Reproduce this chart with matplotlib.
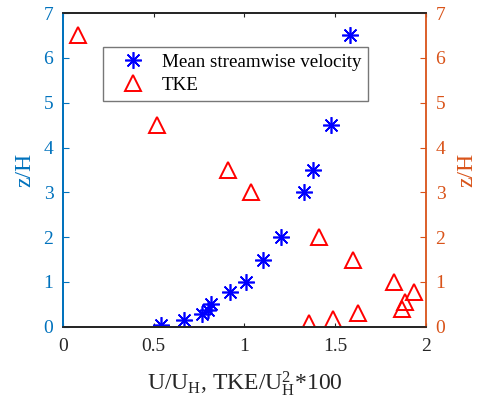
import numpy as np
import matplotlib.pyplot as plt

plt.rcParams['font.family'] = ['Liberation Serif', 'DejaVu Serif']
plt.rcParams['mathtext.fontset'] = 'custom'
plt.rcParams['mathtext.rm'] = 'Liberation Serif'
plt.rcParams['mathtext.it'] = 'Liberation Serif'

# mean streamwise velocity U/U_H
u_vals = [0.541, 0.664, 0.766, 0.80, 0.818, 0.918, 1.006, 1.104, 1.20, 1.327, 1.38, 1.478, 1.584]
u_z = [0.04, 0.16, 0.28, 0.37, 0.52, 0.77, 1.0, 1.5, 2.0, 3.0, 3.5, 4.5, 6.5]

# TKE/U_H^2*100
tke_vals = [1.357, 1.487, 1.628, 1.868, 1.886, 1.936, 1.822, 1.597, 1.408, 1.034, 0.911, 0.515, 0.084]
tke_z = [0.08, 0.18, 0.3, 0.4, 0.55, 0.78, 1.0, 1.5, 2.0, 3.0, 3.5, 4.5, 6.5]

blue_ax = '#0072BD'
orange_ax = '#D95319'
dark = '#262626'

fig = plt.figure(figsize=(4.78, 4.08), dpi=100)
ax = fig.add_axes([0.132, 0.199, 0.759, 0.769])
ax2 = ax.twinx()

l1, = ax.plot(u_vals, u_z, linestyle='none', marker=(8, 2, 0), markersize=12,
              color='blue', markeredgewidth=1.2, label='Mean streamwise velocity')
l2, = ax.plot(tke_vals, tke_z, linestyle='none', marker='^', markersize=11,
              markerfacecolor='none', markeredgecolor='red', markeredgewidth=1.4, label='TKE')

for a in (ax, ax2):
    a.set_xlim(0, 2)
    a.set_ylim(0, 7)
    a.set_yticks(range(8))

ax.set_xticks([0, 0.5, 1, 1.5, 2])
ax.set_xticklabels(['0', '0.5', '1', '1.5', '2'])
ax.tick_params(axis='x', direction='in', length=3, colors=dark, labelsize=14, pad=8, top=True)
ax.tick_params(axis='y', direction='in', length=4, colors=blue_ax, labelsize=14, pad=7)
ax2.tick_params(axis='y', direction='in', length=4, colors=orange_ax, labelsize=14, pad=7)

ax.spines['left'].set_color(blue_ax)
ax2.spines['left'].set_color(blue_ax)
ax2.spines['right'].set_color(orange_ax)
ax.spines['right'].set_visible(False)
for a in (ax, ax2):
    for s in a.spines.values():
        s.set_linewidth(1.3)
    a.spines['top'].set_color(dark)
    a.spines['bottom'].set_color(dark)

ax.set_xlabel(r'U/U$_\mathregular{H}$, TKE/U$_\mathregular{H}^\mathregular{2}$*100', fontsize=17, color=dark, labelpad=10)
ax.set_ylabel('z/H', fontsize=17, color=blue_ax, labelpad=6)
ax2.set_ylabel('z/H', fontsize=17, color=orange_ax, rotation=90, labelpad=8)

leg = ax.legend(handles=[l1, l2], loc='upper left', bbox_to_anchor=(0.110, 0.892),
                borderaxespad=0, fontsize=13.7, frameon=True, fancybox=False,
                edgecolor='#555555', handlelength=2.5, handletextpad=0.25,
                borderpad=0.35, labelspacing=0.3)
leg.get_frame().set_linewidth(1.0)
for t in leg.get_texts():
    t.set_color('black')

fig.savefig('out.png', dpi=100)
